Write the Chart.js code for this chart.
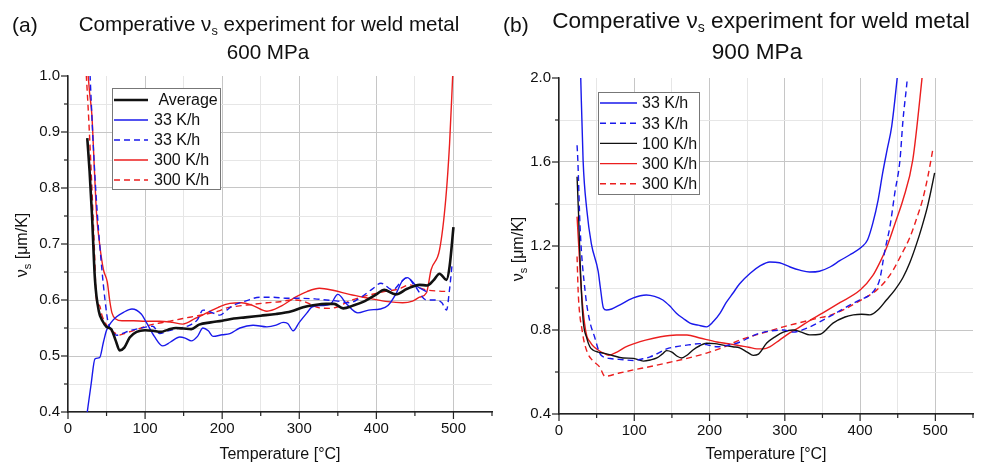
<!DOCTYPE html>
<html>
<head>
<meta charset="utf-8">
<script src="https://cdn.jsdelivr.net/npm/chart.js@4.4.1/dist/chart.umd.min.js"></script>
<style>
body { margin: 0; background: #fff; }
#wrap { position: relative; width: 983px; height: 463px; font-family: "Liberation Sans", Arial, sans-serif; color: #111; overflow: hidden; }
canvas { position: absolute; top: 0; }
.t { position: absolute; white-space: nowrap; }
.t sub { font-size: 0.62em; vertical-align: -0.3em; line-height: 0; }
</style>
</head>
<body>
<div id="wrap">
  <canvas id="chartA" width="500" height="463" style="left:0px"></canvas>
  <canvas id="chartB" width="493" height="463" style="left:490px"></canvas>

  <div class="t" style="left:12px;top:13px;font-size:21px;line-height:24px">(a)</div>
  <div class="t" style="left:59px;width:420px;top:13px;font-size:20.6px;line-height:22px;text-align:center">Comperative &nu;<sub>s</sub> experiment for weld metal</div>
  <div class="t" style="left:58px;width:420px;top:41px;font-size:20.6px;line-height:22px;text-align:center">600 MPa</div>

  <div class="t" style="left:503px;top:13px;font-size:21px;line-height:24px">(b)</div>
  <div class="t" style="left:541px;width:440px;top:9px;font-size:22.6px;line-height:24px;text-align:center">Comperative &nu;<sub>s</sub> experiment for weld metal</div>
  <div class="t" style="left:537px;width:440px;top:40px;font-size:22.6px;line-height:24px;text-align:center">900 MPa</div>
</div>

<script>
var FONT = '"Liberation Sans", Arial, sans-serif';
Chart.defaults.font.family = FONT;
Chart.defaults.color = '#111';

// ---- (a) 600 MPa : temperature [°C] / vs [um/K]
var aAvgT = [25, 28, 31, 35, 40, 45, 50, 56, 62, 67, 73, 80, 89, 100, 110, 120, 130, 140, 150, 160, 170, 185, 200, 215, 230, 250, 270, 290, 305, 320, 335, 345, 357, 370, 385, 400, 410, 425, 440, 456, 466, 474, 482, 491, 495, 500];
var aAvgV = [0.889, 0.83, 0.755, 0.636, 0.58, 0.562, 0.552, 0.548, 0.527, 0.510, 0.515, 0.533, 0.543, 0.546, 0.545, 0.543, 0.547, 0.550, 0.549, 0.548, 0.556, 0.560, 0.563, 0.567, 0.569, 0.572, 0.575, 0.580, 0.587, 0.591, 0.593, 0.593, 0.585, 0.590, 0.598, 0.610, 0.618, 0.610, 0.620, 0.627, 0.626, 0.635, 0.647, 0.636, 0.66, 0.73];

var a33T = [24, 30, 35, 41, 46, 50, 56, 63, 72, 83, 95, 102, 112, 123, 133, 145, 152, 160, 168, 175, 182, 188, 200, 210, 223, 240, 258, 270, 279, 285, 292, 300, 310, 317, 330, 340, 350, 362, 376, 390, 405, 415, 425, 434, 440, 452, 465];
var a33V = [0.39, 0.45, 0.495, 0.497, 0.525, 0.546, 0.56, 0.57, 0.578, 0.584, 0.575, 0.559, 0.535, 0.518, 0.525, 0.534, 0.532, 0.527, 0.535, 0.55, 0.545, 0.535, 0.538, 0.54, 0.55, 0.555, 0.552, 0.555, 0.56, 0.558, 0.545, 0.56, 0.577, 0.588, 0.59, 0.592, 0.61, 0.592, 0.577, 0.582, 0.584, 0.59, 0.61, 0.635, 0.64, 0.625, 0.615];

var a33dT = [28, 33, 38, 44, 48, 52, 57, 63, 70, 80, 95, 110, 119, 130, 145, 158, 168, 175, 186, 197, 206, 214, 230, 249, 265, 285, 300, 320, 335, 350, 365, 380, 395, 406, 421, 432, 440, 450, 465, 478, 485, 491, 495, 498];
var a33dV = [1.02, 0.87, 0.755, 0.654, 0.6, 0.56, 0.545, 0.537, 0.54, 0.545, 0.55, 0.553, 0.54, 0.545, 0.55, 0.555, 0.565, 0.582, 0.578, 0.573, 0.582, 0.59, 0.598, 0.605, 0.605, 0.603, 0.603, 0.602, 0.6, 0.598, 0.595, 0.605, 0.62, 0.63, 0.618, 0.632, 0.64, 0.625, 0.6, 0.6, 0.595, 0.582, 0.62, 0.66];

var a300T = [25, 28, 31, 34, 37, 41, 46, 51, 54, 57, 62, 70, 85, 100, 119, 135, 149, 165, 180, 195, 210, 225, 240, 258, 275, 295, 310, 326, 345, 365, 391, 415, 434, 447, 456, 465, 471, 482, 490, 495, 499];
var a300V = [1.02, 0.97, 0.93, 0.84, 0.755, 0.70, 0.654, 0.632, 0.60, 0.577, 0.566, 0.563, 0.563, 0.562, 0.562, 0.56, 0.557, 0.567, 0.577, 0.587, 0.594, 0.595, 0.59, 0.58, 0.588, 0.605, 0.615, 0.621, 0.617, 0.61, 0.603, 0.597, 0.595, 0.598, 0.605, 0.613, 0.654, 0.69, 0.78, 0.88, 1.0];

var a300dT = [23, 27, 31, 34, 37, 41, 44, 50, 56, 61, 65, 75, 84, 95, 106, 119, 135, 149, 165, 180, 195, 206, 220, 232, 258, 275, 290, 305, 318, 326, 340, 350, 365, 380, 391, 410, 430, 443, 455, 465, 480, 495];
var a300dV = [1.02, 0.92, 0.8, 0.7, 0.6, 0.59, 0.573, 0.555, 0.545, 0.541, 0.537, 0.541, 0.545, 0.55, 0.555, 0.559, 0.563, 0.567, 0.571, 0.575, 0.58, 0.586, 0.589, 0.591, 0.595, 0.597, 0.6, 0.598, 0.59, 0.586, 0.585, 0.588, 0.598, 0.605, 0.609, 0.615, 0.62, 0.627, 0.622, 0.618, 0.616, 0.615];

// ---- (b) 900 MPa
var b33T = [28.5, 32, 37, 43, 52, 55, 59, 63, 70, 81, 98, 116, 127, 138, 147, 156, 165, 174, 185, 196, 205, 214, 222, 231, 240, 254, 267, 280, 293, 307, 320, 333, 346, 360, 373, 386, 402, 410, 417, 424, 430, 436, 442, 449, 452];
var b33V = [2.05, 1.61, 1.37, 1.21, 1.08, 1.0, 0.905, 0.895, 0.9, 0.92, 0.952, 0.967, 0.96, 0.943, 0.915, 0.88, 0.855, 0.833, 0.823, 0.815, 0.84, 0.88, 0.93, 0.975, 1.02, 1.07, 1.105, 1.124, 1.12, 1.1, 1.085, 1.076, 1.08, 1.1, 1.13, 1.157, 1.195, 1.23, 1.31, 1.42, 1.548, 1.66, 1.77, 1.99, 2.1];

var b33dT = [24, 25, 28, 35, 41, 47, 54, 60, 68, 80, 99, 110, 121, 132, 143, 158, 174, 187, 200, 210, 224, 236, 245, 254, 267, 280, 298, 311, 330, 347, 365, 382, 398, 413, 420, 426, 433, 440, 446, 453, 457, 462, 464];
var b33dV = [1.68, 1.61, 1.29, 0.975, 0.84, 0.77, 0.69, 0.67, 0.664, 0.66, 0.655, 0.662, 0.672, 0.69, 0.71, 0.722, 0.73, 0.735, 0.727, 0.72, 0.727, 0.737, 0.75, 0.767, 0.785, 0.795, 0.8, 0.79, 0.81, 0.84, 0.875, 0.91, 0.94, 0.967, 0.995, 1.04, 1.18, 1.30, 1.45, 1.61, 1.8, 1.97, 2.05];

var b100T = [24, 26, 28, 32, 37, 41, 45, 52, 59, 70, 85, 99, 112, 122, 130, 137, 143, 150, 157, 163, 170, 178, 187, 196, 207, 218, 231, 240, 250, 258, 265, 276, 288, 298, 311, 322, 333, 347, 364, 380, 391, 402, 413, 425, 435, 446, 457, 466, 475, 482, 489, 494, 499];
var b100V = [1.53, 1.35, 1.13, 0.85, 0.76, 0.72, 0.705, 0.695, 0.69, 0.68, 0.667, 0.665, 0.652, 0.658, 0.667, 0.685, 0.702, 0.695, 0.675, 0.667, 0.68, 0.705, 0.725, 0.737, 0.735, 0.728, 0.72, 0.715, 0.695, 0.679, 0.685, 0.738, 0.77, 0.79, 0.8, 0.79, 0.777, 0.78, 0.833, 0.862, 0.872, 0.875, 0.872, 0.9, 0.943, 0.99, 1.05, 1.12, 1.21, 1.29, 1.38, 1.46, 1.548];

var b300T = [24, 27, 30, 34, 37, 41, 45, 52, 59, 66, 77, 88, 100, 115, 135, 156, 170, 187, 210, 225, 240, 252, 263, 272, 280, 293, 306, 320, 333, 350, 373, 400, 417, 426, 435, 448, 457, 470, 482, 485];
var b300V = [1.34, 1.15, 0.976, 0.83, 0.77, 0.745, 0.725, 0.705, 0.69, 0.68, 0.695, 0.718, 0.735, 0.752, 0.768, 0.776, 0.776, 0.762, 0.743, 0.735, 0.725, 0.718, 0.71, 0.71, 0.72, 0.752, 0.785, 0.815, 0.845, 0.88, 0.93, 0.99, 1.06, 1.12, 1.19, 1.324, 1.42, 1.61, 1.99, 2.1];

var b300dT = [24, 25.5, 28, 30, 33, 38, 44, 54, 61, 80, 99, 120, 143, 170, 196, 220, 240, 270, 298, 320, 342, 360, 377, 400, 422, 433, 444, 455, 466, 475, 483, 490, 497];
var b300dV = [1.15, 0.98, 0.86, 0.815, 0.75, 0.69, 0.657, 0.624, 0.58, 0.595, 0.61, 0.625, 0.643, 0.665, 0.69, 0.72, 0.752, 0.785, 0.815, 0.835, 0.855, 0.87, 0.895, 0.94, 0.99, 1.03, 1.086, 1.16, 1.24, 1.33, 1.42, 1.53, 1.667];

var BLUE = 'rgb(25,25,235)', RED = 'rgb(235,30,30)', BLACK = '#111';

function pts(T, V) {
    return T.map(function (t, i) { return { x: t, y: V[i] }; });
}

function line(label, T, V, color, dashed, width) {
    return {
        label: label,
        data: pts(T, V),
        borderColor: color,
        backgroundColor: color,
        borderWidth: width || 1.4,
        borderDash: dashed ? [6, 4] : [],
        pointRadius: 0,
        cubicInterpolationMode: 'monotone',
        fill: false
    };
}

// ticks, axis titles and the boxed legend
var decor = {
    id: 'decor',
    afterDraw: function (chart, args, o) {
        var ctx = chart.ctx, a = chart.chartArea, xs = chart.scales.x, ys = chart.scales.y;
        ctx.save();
        ctx.strokeStyle = '#222';
        ctx.lineWidth = 1.2;
        xs.ticks.forEach(function (t) {
            var p = xs.getPixelForValue(t.value);
            var len = o.xMajor(t.value) ? 7 : 4;
            ctx.beginPath(); ctx.moveTo(p, a.bottom); ctx.lineTo(p, a.bottom + len); ctx.stroke();
        });
        ys.ticks.forEach(function (t) {
            var p = ys.getPixelForValue(t.value);
            var len = o.yMajor(t.value) ? 7 : 4;
            ctx.beginPath(); ctx.moveTo(a.left, p); ctx.lineTo(a.left - len, p); ctx.stroke();
        });

        ctx.fillStyle = '#111';
        ctx.font = '16px ' + FONT;
        ctx.textAlign = 'center';
        ctx.textBaseline = 'middle';
        ctx.fillText('Temperature [°C]', (a.left + a.right) / 2, o.xTitleY);

        ctx.translate(o.yTitleX, (a.top + a.bottom) / 2 + o.yTitleDy);
        ctx.rotate(-Math.PI / 2);
        ctx.font = '16px ' + FONT;
        var w1 = ctx.measureText('ν').width, w3 = ctx.measureText(' [μm/K]').width;
        ctx.font = '11px ' + FONT;
        var w2 = ctx.measureText('s').width;
        var x0 = -(w1 + w2 + w3) / 2;
        ctx.textAlign = 'left';
        ctx.font = '16px ' + FONT; ctx.fillText('ν', x0, 0);
        ctx.font = '11px ' + FONT; ctx.fillText('s', x0 + w1, 5);
        ctx.font = '16px ' + FONT; ctx.fillText(' [μm/K]', x0 + w1 + w2, 0);
        ctx.restore();

        var L = o.legend;
        ctx.save();
        ctx.fillStyle = '#fff';
        ctx.fillRect(L.x, L.y, L.w, L.h);
        ctx.strokeStyle = '#777';
        ctx.lineWidth = 1;
        ctx.strokeRect(L.x + 0.5, L.y + 0.5, L.w, L.h);
        chart.data.datasets.forEach(function (d, i) {
            var y = L.y + L.first + i * L.step;
            ctx.strokeStyle = d.borderColor;
            ctx.lineWidth = d.borderWidth;
            ctx.setLineDash(d.borderDash);
            ctx.beginPath(); ctx.moveTo(L.x + 2, y); ctx.lineTo(L.x + L.lineW, y); ctx.stroke();
            ctx.setLineDash([]);
            ctx.fillStyle = '#111';
            ctx.font = '16px ' + FONT;
            ctx.textAlign = 'left';
            ctx.textBaseline = 'middle';
            ctx.fillText(d.label, L.x + L.textX, y + 1);
        });
        ctx.restore();
    }
};

function gridColor(major, hide) {
    if (hide) return 'rgba(0,0,0,0)';
    return major ? '#c6c6c6' : '#e6e6e6';
}

function panel(id, datasets, s) {
    return new Chart(document.getElementById(id).getContext('2d'), {
        type: 'line',
        data: { datasets: datasets },
        plugins: [decor],
        options: {
            responsive: false,
            animation: false,
            layout: { padding: { top: s.top, right: s.right, left: 0, bottom: 0 } },
            scales: {
                x: {
                    type: 'linear', min: 0, max: 550,
                    ticks: {
                        stepSize: 50, autoSkip: false, maxRotation: 0, padding: 8,
                        font: { size: 15 }, color: '#111',
                        callback: function (v) { return (v % 100 === 0 && v <= 500) ? String(v) : ''; }
                    },
                    grid: {
                        drawTicks: false,
                        color: function (c) { return gridColor(c.tick.value % 100 === 0, c.tick.value >= 550); }
                    },
                    border: { color: '#222', width: 1.5 },
                    afterFit: function (sc) { sc.height = s.xh; }
                },
                y: {
                    type: 'linear', min: s.ymin, max: s.ymax,
                    ticks: {
                        stepSize: s.ystep, autoSkip: false, padding: 8,
                        font: { size: 15 }, color: '#111',
                        callback: function (v) { return s.yMajor(v) ? v.toFixed(1) : ''; }
                    },
                    grid: {
                        drawTicks: false,
                        color: function (c) { return gridColor(s.yMajor(c.tick.value), c.tick.value >= s.ymax - 1e-6); }
                    },
                    border: { color: '#222', width: 1.5 },
                    afterFit: function (sc) { sc.width = s.yw; }
                }
            },
            plugins: {
                legend: { display: false },
                tooltip: { enabled: false },
                decor: {
                    xMajor: function (v) { return v % 100 === 0; },
                    yMajor: s.yMajor,
                    xTitleY: 455,
                    yTitleX: s.yTitleX,
                    yTitleDy: s.yTitleDy,
                    legend: s.legend
                }
            }
        }
    });
}

var chartA = panel('chartA', [
    line(' Average', aAvgT, aAvgV, BLACK, false, 2.6),
    line('33 K/h', a33T, a33V, BLUE, false),
    line('33 K/h', a33dT, a33dV, BLUE, true),
    line('300 K/h', a300T, a300V, RED, false),
    line('300 K/h', a300dT, a300dV, RED, true)
], {
    top: 76, right: 7, xh: 51, yw: 68,
    ymin: 0.4, ymax: 1.0, ystep: 0.05,
    yMajor: function (v) { return Math.round(v * 100) % 10 === 0; },
    yTitleX: 23, yTitleDy: 1,
    legend: { x: 112, y: 88, w: 108, h: 101, first: 12, step: 20, lineW: 36, textX: 42 }
});

var chartB = panel('chartB', [
    line('33 K/h', b33T, b33V, BLUE, false),
    line('33 K/h', b33dT, b33dV, BLUE, true),
    line('100 K/h', b100T, b100V, BLACK, false),
    line('300 K/h', b300T, b300V, RED, false),
    line('300 K/h', b300dT, b300dV, RED, true)
], {
    top: 78, right: 10, xh: 49, yw: 69,
    ymin: 0.4, ymax: 2.0, ystep: 0.2,
    yMajor: function (v) { return Math.round(v * 10) % 4 === 0; },
    yTitleX: 29, yTitleDy: 3,
    legend: { x: 108, y: 92, w: 101, h: 102, first: 11, step: 20.2, lineW: 39, textX: 44 }
});
</script>
</body>
</html>
